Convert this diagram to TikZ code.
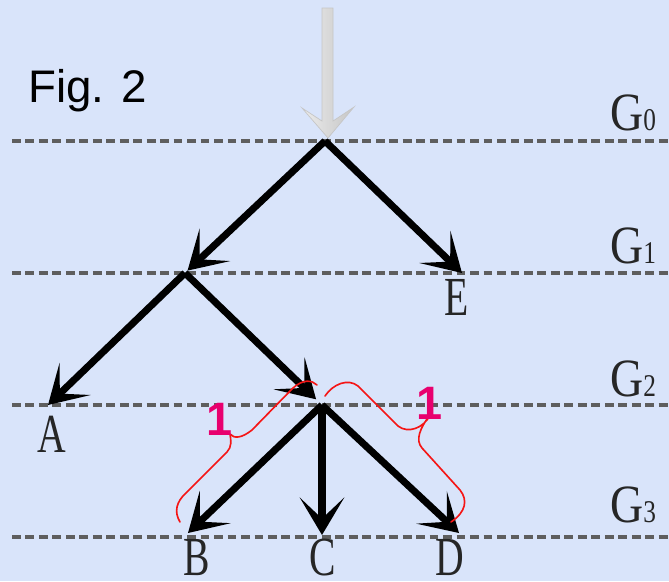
\documentclass[tikz,border=0pt]{standalone}
\usepackage{fontspec}
\usepackage{graphicx}
\setmainfont{Liberation Serif}
\newfontfamily\figsans{Liberation Sans}
\usetikzlibrary{arrows.meta}
\definecolor{cbg}{HTML}{D9E4FA}
\definecolor{cdash}{HTML}{5E5E5E}
\definecolor{cbrace}{HTML}{F51515}
\definecolor{cpink}{HTML}{E8006E}
\definecolor{cshaft}{HTML}{E6E6E6}
\newcommand{\slim}[1]{\scalebox{0.72}[1]{#1}}
\newcommand{\gsub}[1]{{\fontsize{27}{28}\selectfont\scalebox{0.8}[1]{#1}}}
\tikzset{
  level/.style={draw=cdash, line width=2.7pt, dash pattern=on 7.5pt off 4pt},
  branch/.style={-{Stealth[length=32pt, width=38pt, inset=18pt]}, line width=6pt, draw=black},
  leaf/.style={font=\fontsize{47}{49}\selectfont, text=black!85, inner sep=0pt, anchor=base},
  gen/.style={font=\fontsize{46}{48}\selectfont, text=black!85, inner sep=0pt, anchor=base west},
  span/.style={draw=cbrace, line width=1.4pt, line cap=round, line join=round},
  weight/.style={font=\figsans\bfseries\fontsize{40}{42}\selectfont, text=cpink, inner sep=0pt, anchor=base},
}

\begin{document}
\begin{tikzpicture}[x=0.03cm, y=-0.03cm]
  \fill[cbg] (0,0) rectangle (669,581);
  \useasboundingbox (0,0) rectangle (669,581);
  \node[font=\figsans\fontsize{39}{41}\selectfont, inner sep=0pt, anchor=base west] (fig) at (28,102) {Fig. 2};

  % generations
  \foreach \y/\g/\b in {141/0/130, 273/1/263, 405/2/396, 537/3/522} {
    \draw[level] (12,\y) -- (669,\y);
    \node[gen] (gen\g) at (610,\b) {\scalebox{0.85}[1]{G}\gsub{\g}};
  }

  % branch points and tips
  \coordinate (p0) at (325,141);
  \coordinate (p1) at (185,273);
  \coordinate (p2) at (322,405);
  \coordinate (tE) at (462,273);
  \coordinate (tA) at (48,405);
  \coordinate (tB) at (188,533);
  \coordinate (tC) at (322,535);
  \coordinate (tD) at (459,533);

  \node[leaf] (A) at (52,452) {\slim{A}};
  \node[leaf] (B) at (197,575) {\slim{B}};
  \node[leaf] (C) at (323,575) {\slim{C}};
  \node[leaf] (D) at (450,575) {\slim{D}};
  \node[leaf] (E) at (457,315) {\slim{E}};

  % incoming arrow
  \coordinate (src) at (327.5,8);
  \shade[left color=gray!15, right color=gray!45, draw=gray!45, line width=0.6pt]
    (322,8) -- (333,8) -- (333,121) -- (354,107) -- (328,138) -- (302,108) -- (322,121) -- cycle;

  \draw[branch, shorten >=3pt] (p0) -- (p1);
  \draw[branch] (p0) -- (tE);
  \draw[branch] (p1) -- (tA);
  \draw[branch, shorten >=7pt] (p1) -- (p2);
  \foreach \t in {B, C, D} \draw[branch] (p2) -- (t\t);

  % distances
  \draw[span] (180,522) .. controls (174,512) and (176,502) .. (186,493) -- (227,452)
    .. controls (232,447) and (231,440) .. (230,434)
    .. controls (234,439) and (242,438) .. (252,430) -- (293,388)
    .. controls (303,379) and (312,380) .. (317,385);
  \draw[span] (325,396) .. controls (333,384) and (348,378) .. (358,386) -- (398,426)
    .. controls (408,434) and (424,428) .. (430,415)
    .. controls (420,428) and (415,440) .. (422,448) -- (460,490)
    .. controls (468,500) and (466,512) .. (451,522);
  \node[weight] (wl) at (220,435) {1};
  \node[weight] (wr) at (430,419) {1};
\end{tikzpicture}
\end{document}
